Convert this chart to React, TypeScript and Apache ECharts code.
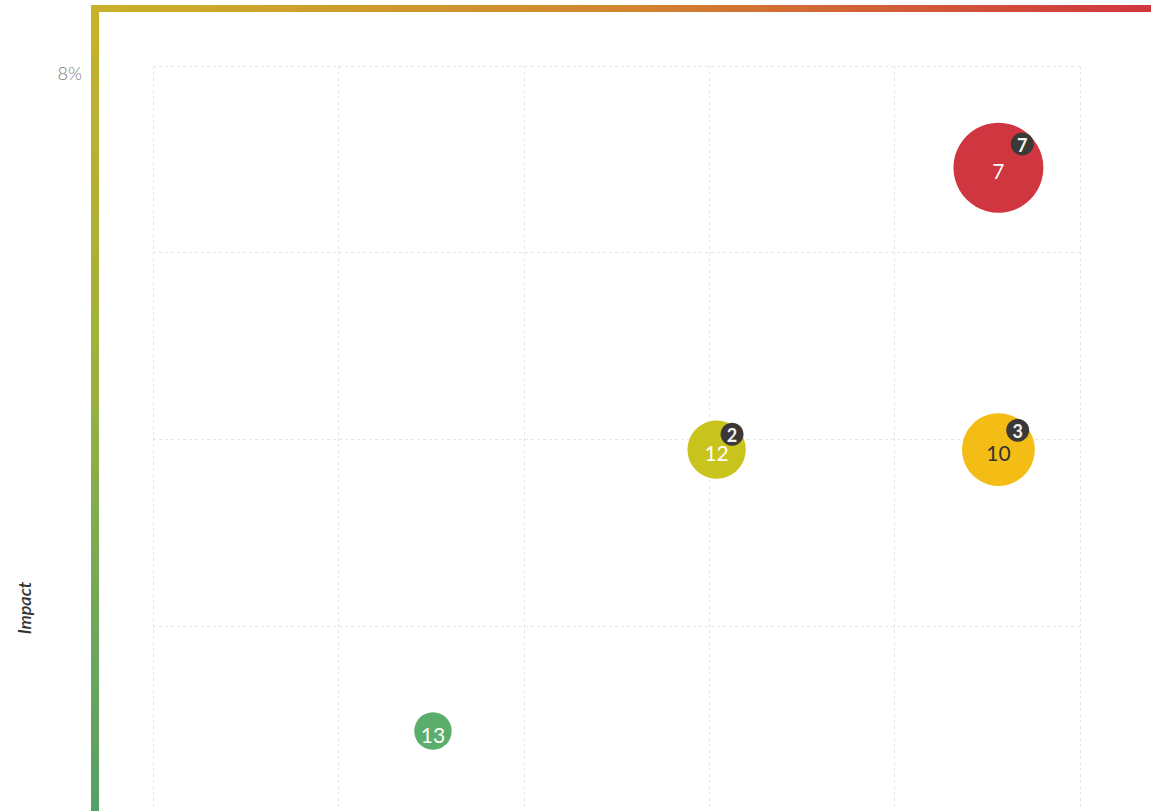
import React, { useEffect, useRef } from "react";
import * as echarts from "echarts";

const riskIds = ["7", "12", "10", "13"];
const likelihood = [4.56, 3.04, 4.56, 1.51];
const impact = [6.91, 3.89, 3.89, 0.875];
const exposure = [8.1, 3.4, 5.3, 1.4];
const openIssues = [7, 2, 3, 0];
const riskColors = ["#d0363f", "#c9c41d", "#f4bd16", "#5aad6a"];
const labelColors = ["#ffffff", "#ffffff", "#333333", "#ffffff"];
const yTickLabels: Record<number, string> = { 8: "8%" };

const FONT = "Lato, 'Open Sans', sans-serif";

export default function App() {
  const ref = useRef<HTMLDivElement>(null);
  useEffect(() => {
    if (!ref.current) return;
    const chart = echarts.init(ref.current, undefined, { renderer: "svg" });
    const diam = (w: number) => Math.sqrt(w) * 31.6;

    const mainData = riskIds.map((id, i) => ({
      name: id,
      value: [likelihood[i], impact[i]],
      symbolSize: diam(exposure[i]),
      itemStyle: { color: riskColors[i], opacity: 1 },
      label: { color: labelColors[i] },
    }));

    const badgeData = riskIds
      .map((id, i) => {
        const r = diam(exposure[i]) / 2;
        return {
          name: String(openIssues[i]),
          value: [likelihood[i], impact[i]],
          symbolOffset: [r * 0.53, -r * 0.53],
          count: openIssues[i],
        };
      })
      .filter((d) => d.count > 0)
      .map(({ count, ...rest }) => rest);

    chart.setOption({
      animation: false,
      grid: { left: 153, top: 66, width: 927, height: 746.7 },
      xAxis: {
        type: "value",
        min: 0,
        max: 5,
        interval: 1,
        axisLine: { show: false },
        axisTick: { show: false },
        axisLabel: { show: false },
        splitLine: { show: true, lineStyle: { color: "#e6e6e6", type: [3, 3], width: 1 } },
      },
      yAxis: {
        type: "value",
        min: 0,
        max: 8,
        interval: 2,
        axisLine: { show: false },
        axisTick: { show: false },
        axisLabel: {
          margin: 71,
          verticalAlign: "top",
          color: "#7a7a7a",
          fontFamily: FONT,
          fontSize: 18,
          fontWeight: 300,
          padding: [-2, 0, 0, 0],
          formatter: (v: number) => yTickLabels[v] || "",
        },
        splitLine: { show: true, lineStyle: { color: "#e6e6e6", type: [3, 3], width: 1 } },
      },
      graphic: [
        {
          type: "rect",
          shape: { x: 91, y: 5, width: 1060, height: 7 },
          style: {
            fill: new echarts.graphic.LinearGradient(0, 0, 1, 0, [
              { offset: 0, color: "#c9b12a" },
              { offset: 0.5, color: "#d2862f" },
              { offset: 1, color: "#d1363f" },
            ]),
          },
          z: 10,
        },
        {
          type: "rect",
          shape: { x: 91, y: 5, width: 8, height: 806 },
          style: {
            fill: new echarts.graphic.LinearGradient(0, 0, 0, 1, [
              { offset: 0, color: "#c9b12a" },
              { offset: 0.45, color: "#9eb13c" },
              { offset: 0.72, color: "#76a957" },
              { offset: 1, color: "#569f67" },
            ]),
          },
          z: 10,
        },
        {
          type: "text",
          x: 24,
          y: 608,
          rotation: Math.PI / 2,
          style: {
            text: "Impact",
            fill: "#333333",
            font: `italic 600 18px ${FONT}`,
            align: "center",
            verticalAlign: "middle",
          },
          z: 10,
        },
      ],
      series: [
        {
          type: "scatter",
          data: mainData,
          z: 2,
          emphasis: { disabled: true },
          label: {
            show: true,
            position: "inside",
            formatter: "{b}",
            fontFamily: FONT,
            fontSize: 21,
            offset: [0, 3],
          },
        },
        {
          type: "scatter",
          data: badgeData,
          symbolSize: 23,
          z: 3,
          itemStyle: { color: "#3b3937", opacity: 1 },
          emphasis: { disabled: true },
          label: {
            show: true,
            position: "inside",
            formatter: "{b}",
            color: "#f2f2f2",
            fontFamily: FONT,
            fontWeight: "bold",
            fontSize: 18,
            offset: [0, 1],
          },
        },
      ],
    });
    return () => chart.dispose();
  }, []);

  return (
    <div
      style={{
        position: "absolute",
        left: 0,
        top: 0,
        width: 1151,
        height: 811,
        overflow: "hidden",
        background: "#ffffff",
      }}
    >
      <div ref={ref} style={{ width: 1151, height: 900 }} />
    </div>
  );
}
